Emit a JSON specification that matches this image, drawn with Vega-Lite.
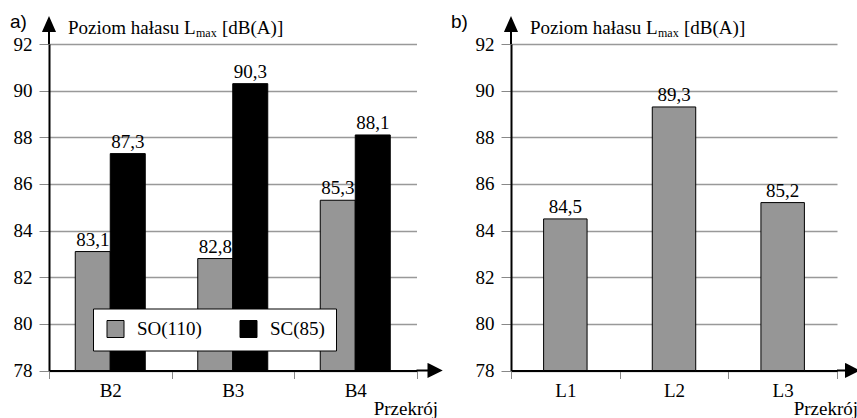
{
  "$schema": "https://vega.github.io/schema/vega-lite/v6.json",
  "padding": {"left": 10, "top": 12, "right": 0, "bottom": 0},
  "background": "white",
  "spacing": 6,
  "config": {
    "view": {"stroke": null},
    "font": "Liberation Serif",
    "locale": {"number": {"decimal": ",", "thousands": " ", "grouping": [3], "currency": ["", " zł"]}},
    "axisX": {
      "tickBand": "extent", "labelAngle": 0, "title": null, "domainColor": "black", "domainWidth": 2,
      "tickColor": "#888888", "tickSize": 8, "tickWidth": 1, "labelFont": "Liberation Serif", "labelFontSize": 19,
      "labelColor": "black", "labelPadding": 3, "grid": false
    },
    "axisY": {
      "values": [78, 80, 82, 84, 86, 88, 90, 92], "grid": true, "gridColor": "#999999", "gridWidth": 1.3,
      "domainColor": "black", "domainWidth": 2, "tickColor": "#888888", "tickSize": 10, "tickWidth": 1,
      "labelPadding": 7, "labelFont": "Liberation Serif", "labelFontSize": 19, "labelColor": "black", "title": null
    }
  },
  "resolve": {"scale": {"x": "independent", "y": "independent"}},
  "hconcat": [
    {
      "width": 367.5,
      "height": 326.5,
      "layer": [
        {
          "data": {"values": [
            {"cat": "B2", "series": "SO(110)", "value": 83.1},
            {"cat": "B2", "series": "SC(85)", "value": 87.3},
            {"cat": "B3", "series": "SO(110)", "value": 82.8},
            {"cat": "B3", "series": "SC(85)", "value": 90.3},
            {"cat": "B4", "series": "SO(110)", "value": 85.3},
            {"cat": "B4", "series": "SC(85)", "value": 88.1}
          ]},
          "layer": [
            {
              "mark": {"type": "bar", "stroke": "black", "strokeWidth": 1},
              "encoding": {
                "x": {"field": "cat", "type": "nominal", "scale": {"paddingInner": 0, "paddingOuter": 0}},
                "xOffset": {"field": "series", "type": "nominal", "sort": ["SO(110)", "SC(85)"], "scale": {"paddingInner": 0, "paddingOuter": 0.75}},
                "y": {"field": "value", "type": "quantitative", "scale": {"domain": [78, 92], "nice": false, "zero": false}},
                "y2": {"datum": 78},
                "color": {
                  "field": "series", "type": "nominal", "sort": ["SO(110)", "SC(85)"],
                  "scale": {"domain": ["SO(110)", "SC(85)"], "range": ["#969696", "#000000"]},
                  "legend": {
                    "title": null, "orient": "none", "legendX": 44, "legendY": 264.5, "direction": "horizontal",
                    "columns": 2, "gridAlign": "each", "fillColor": "white", "strokeColor": "black", "padding": 11,
                    "symbolType": "square", "symbolSize": 289, "symbolStrokeColor": "black", "symbolStrokeWidth": 1,
                    "symbolOffset": 2, "symbolOpacity": 1, "labelFont": "Liberation Serif", "labelFontSize": 19, "labelColor": "black",
                    "labelOffset": 12, "columnPadding": 35, "labelLimit": 300,
                    "labelExpr": "datum.label == 'SC(85)' ? 'SC(85)\u00a0\u00a0\u00a0\u00a0' : datum.label"
                  }
                }
              }
            },
            {
              "mark": {"type": "text", "baseline": "alphabetic", "dy": -6, "fontSize": 19, "color": "black", "font": "Liberation Serif"},
              "encoding": {
                "x": {"field": "cat", "type": "nominal"},
                "xOffset": {"field": "series", "type": "nominal", "sort": ["SO(110)", "SC(85)"]},
                "y": {"field": "value", "type": "quantitative"},
                "text": {"field": "value", "type": "quantitative", "format": ".1f"}
              }
            }
          ]
        },
        {
          "data": {"values": [{}]},
          "layer": [
            {
              "mark": {"type": "point", "shape": "M0,0L0,-13M-5.5,-13L0,-25.5L5.5,-13Z", "size": 4, "filled": true, "fill": "black", "stroke": "black", "strokeWidth": 2, "opacity": 1},
              "encoding": {"x": {"datum": "B2", "bandPosition": 0}, "y": {"datum": 92}}
            },
            {
              "mark": {"type": "point", "shape": "M0,0L12,0M12,-6L24,0L12,6Z", "size": 4, "filled": true, "fill": "black", "stroke": "black", "strokeWidth": 2, "opacity": 1},
              "encoding": {"x": {"datum": "B4", "bandPosition": 1}, "y": {"datum": 78}}
            },
            {
              "mark": {"type": "text", "text": "a)", "font": "Liberation Sans", "fontSize": 19, "align": "left", "baseline": "alphabetic", "dx": -39, "dy": -16.5, "color": "black"},
              "encoding": {"x": {"datum": "B2", "bandPosition": 0}, "y": {"datum": 92}}
            },
            {
              "mark": {"type": "text", "text": "Poziom hałasu L", "fontSize": 19, "align": "left", "baseline": "alphabetic", "dx": 19, "dy": -10.5, "color": "black"},
              "encoding": {"x": {"datum": "B2", "bandPosition": 0}, "y": {"datum": 92}}
            },
            {
              "mark": {"type": "text", "text": "max", "fontSize": 12, "align": "left", "baseline": "alphabetic", "dx": 147, "dy": -7, "color": "black"},
              "encoding": {"x": {"datum": "B2", "bandPosition": 0}, "y": {"datum": 92}}
            },
            {
              "mark": {"type": "text", "text": "[dB(A)]", "fontSize": 19, "align": "left", "baseline": "alphabetic", "dx": 173, "dy": -10.5, "color": "black"},
              "encoding": {"x": {"datum": "B2", "bandPosition": 0}, "y": {"datum": 92}}
            },
            {
              "mark": {"type": "text", "text": "Przekrój", "fontSize": 19, "align": "right", "baseline": "alphabetic", "dx": 21.5, "dy": 44, "color": "black"},
              "encoding": {"x": {"datum": "B4", "bandPosition": 1}, "y": {"datum": 78}}
            }
          ]
        }
      ]
    },
    {
      "width": 326,
      "height": 326.5,
      "layer": [
        {
          "data": {"values": [
            {"cat": "L1", "value": 84.5},
            {"cat": "L2", "value": 89.3},
            {"cat": "L3", "value": 85.2}
          ]},
          "layer": [
            {
              "mark": {"type": "bar", "color": "#969696", "stroke": "black", "strokeWidth": 1, "width": {"band": 0.4}},
              "encoding": {
                "x": {"field": "cat", "type": "nominal", "scale": {"paddingInner": 0, "paddingOuter": 0}},
                "y": {"field": "value", "type": "quantitative", "scale": {"domain": [78, 92], "nice": false, "zero": false}},
                "y2": {"datum": 78}
              }
            },
            {
              "mark": {"type": "text", "baseline": "alphabetic", "dy": -6, "fontSize": 19, "color": "black", "font": "Liberation Serif"},
              "encoding": {
                "x": {"field": "cat", "type": "nominal"},
                "y": {"field": "value", "type": "quantitative"},
                "text": {"field": "value", "type": "quantitative", "format": ".1f"}
              }
            }
          ]
        },
        {
          "data": {"values": [{}]},
          "layer": [
            {
              "mark": {"type": "point", "shape": "M0,0L0,-13M-5.5,-13L0,-25.5L5.5,-13Z", "size": 4, "filled": true, "fill": "black", "stroke": "black", "strokeWidth": 2, "opacity": 1},
              "encoding": {"x": {"datum": "L1", "bandPosition": 0}, "y": {"datum": 92}}
            },
            {
              "mark": {"type": "point", "shape": "M0,0L9,0M9,-6L21,0L9,6Z", "size": 4, "filled": true, "fill": "black", "stroke": "black", "strokeWidth": 2, "opacity": 1},
              "encoding": {"x": {"datum": "L3", "bandPosition": 1}, "y": {"datum": 78}}
            },
            {
              "mark": {"type": "text", "text": "b)", "font": "Liberation Sans", "fontSize": 19, "align": "left", "baseline": "alphabetic", "dx": -60, "dy": -16.5, "color": "black"},
              "encoding": {"x": {"datum": "L1", "bandPosition": 0}, "y": {"datum": 92}}
            },
            {
              "mark": {"type": "text", "text": "Poziom hałasu L", "fontSize": 19, "align": "left", "baseline": "alphabetic", "dx": 19, "dy": -10.5, "color": "black"},
              "encoding": {"x": {"datum": "L1", "bandPosition": 0}, "y": {"datum": 92}}
            },
            {
              "mark": {"type": "text", "text": "max", "fontSize": 12, "align": "left", "baseline": "alphabetic", "dx": 147, "dy": -7, "color": "black"},
              "encoding": {"x": {"datum": "L1", "bandPosition": 0}, "y": {"datum": 92}}
            },
            {
              "mark": {"type": "text", "text": "[dB(A)]", "fontSize": 19, "align": "left", "baseline": "alphabetic", "dx": 173, "dy": -10.5, "color": "black"},
              "encoding": {"x": {"datum": "L1", "bandPosition": 0}, "y": {"datum": 92}}
            },
            {
              "mark": {"type": "text", "text": "Przekrój", "fontSize": 19, "align": "right", "baseline": "alphabetic", "dx": 21, "dy": 44, "color": "black"},
              "encoding": {"x": {"datum": "L3", "bandPosition": 1}, "y": {"datum": 78}}
            }
          ]
        }
      ]
    }
  ]
}
